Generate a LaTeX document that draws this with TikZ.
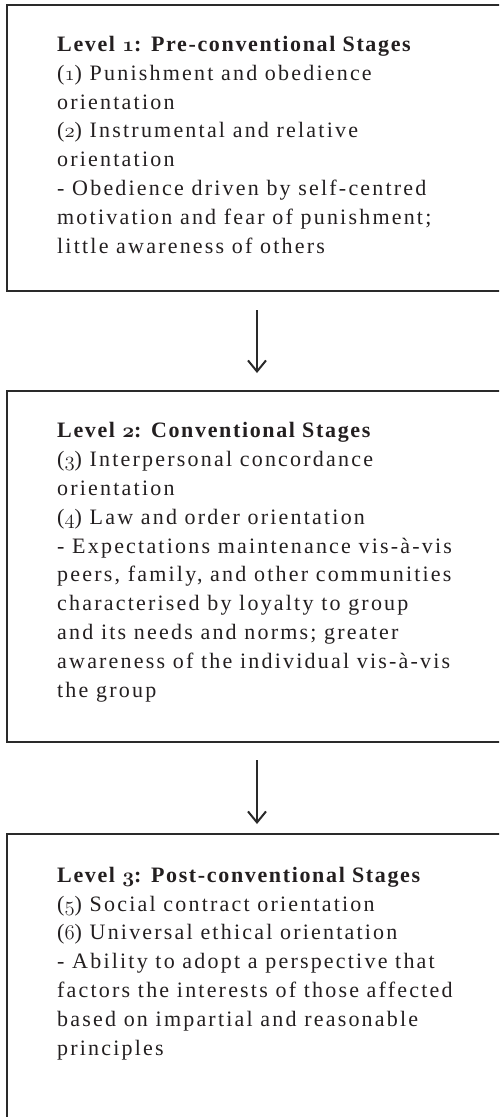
\documentclass[tikz,border=0pt]{standalone}
\usepackage{fontspec}
\setmainfont[LetterSpace=10,BoldFeatures={LetterSpace=7.5}]{Liberation Serif}
\usetikzlibrary{arrows.meta}
\definecolor{linec}{HTML}{2A2A2A}
\definecolor{txt}{HTML}{231F20}
\newcommand{\osn}[1]{{\fontencoding{OML}\fontfamily{cmm}\fontshape{it}\selectfont #1}}
\begin{document}
\begin{tikzpicture}[x=1pt,y=-1pt]
\tikzset{
  levelbox/.style={draw=linec, line width=2.4pt, rectangle, inner sep=0pt, outer sep=0pt, anchor=north west, minimum width=540pt},
  body/.style={anchor=base west, align=left, inner sep=0pt, font=\fontsize{22}{28.8}\selectfont, text=txt},
  flow/.style={draw=linec, line width=2pt, -{Straight Barb[length=11pt,width=18pt,line width=2pt]}}
}
\useasboundingbox (0,0) rectangle (499,1117);
\clip (0,0) rectangle (499,1117);
\fill[white] (0,0) rectangle (499,1117);
\node[levelbox, minimum height=286pt] (b1) at (7,5) {};
\node[levelbox, minimum height=351pt] (b2) at (7,391) {};
\node[levelbox, minimum height=320pt] (b3) at (7,834) {};
\coordinate (ax) at (257,0);
\draw[flow, shorten <=19pt, shorten >=18pt] (b1.south -| ax) -- (b2.north -| ax);
\draw[flow, shorten <=18pt, shorten >=10pt] (b2.south -| ax) -- (b3.north -| ax);
\node[body] (t1) at (57,253) {\textbf{Level \osn{1}: Pre-conventional Stages}\\
(\osn{1}) Punishment and obedience\\
orientation\\
(\osn{2}) Instrumental and relative\\
orientation\\
- Obedience driven by self-centred\\
motivation and fear of punishment;\\
little awareness of others};
\node[body] (t2) at (57,697) {\textbf{Level \osn{2}: Conventional Stages}\\
(\osn{3}) Interpersonal concordance\\
orientation\\
(\osn{4}) Law and order orientation\\
- Expectations maintenance vis-à-vis\\
peers, family, and other communities\\
characterised by loyalty to group\\
and its needs and norms; greater\\
awareness of the individual vis-à-vis\\
the group};
\node[body] (t3) at (57,1055) {\textbf{Level \osn{3}: Post-conventional Stages}\\
(\osn{5}) Social contract orientation\\
(\osn{6}) Universal ethical orientation\\
- Ability to adopt a perspective that\\
factors the interests of those affected\\
based on impartial and reasonable\\
principles};
\end{tikzpicture}
\end{document}
